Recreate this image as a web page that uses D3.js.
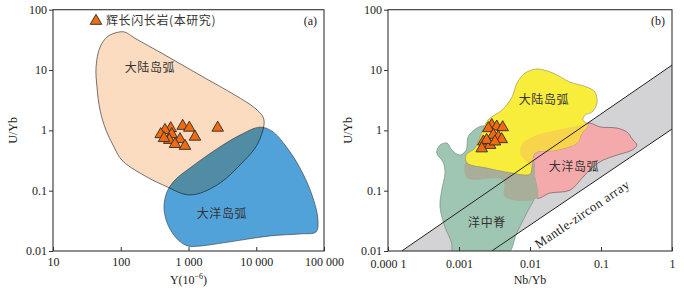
<!DOCTYPE html>
<html>
<head>
<meta charset="utf-8">
<script src="https://cdn.jsdelivr.net/npm/d3@7"></script>
<style>
body { margin: 0; background: #fff; }
.tick text { font-family: "Liberation Serif", serif; font-size: 12px; fill: #222; }
.tick line { stroke: #333; }
.cn { font-family: "Noto Sans CJK SC", sans-serif; font-size: 12px; fill: #333; letter-spacing: 0.6px; }
.en { font-family: "Liberation Serif", serif; font-size: 12px; fill: #222; }
</style>
</head>
<body>
<div id="chart"></div>
<script>
// tick values + labels
var uybTicks = [0.01, 0.1, 1, 10, 100];
var uybLabels = ["0.01", "0.1", "1", "10", "100"];
var yTicks = [10, 100, 1000, 10000, 100000];
var yLabels = ["10", "100", "1 000", "10 000", "100 000"];
var nbTicks = [0.0001, 0.001, 0.01, 0.1, 1];
var nbLabels = ["0.000 1", "0.001", "0.01", "0.1", "1"];

// samples (this study) - panel a: [Y ppm, U/Yb]
var samplesA = [[2698, 1.10], [821, 1.18], [1028, 1.10], [1247, 0.78], [546, 1.08], [450, 1.01], [389, 0.86],
    [565, 0.86], [521, 0.69], [750, 0.71], [632, 0.59], [888, 0.55], [435, 0.74]];
// panel b: [Nb/Yb, U/Yb]
var samplesB = [[0.00289, 1.22], [0.0034, 1.15], [0.00412, 1.12], [0.00259, 1.08], [0.00304, 0.84], [0.00358, 0.78],
    [0.00399, 0.71], [0.0022, 0.65], [0.00274, 0.57], [0.00245, 0.69], [0.00321, 0.65], [0.00209, 0.50]];

// fields panel a
var contArcA = [[97.5, 42.9], [64.9, 36.4], [49.4, 23.9], [43.2, 11.2], [44.6, 5.2], [49.4, 2.17], [60.5, 1.01],
    [76.9, 0.57], [104, 0.32], [192, 0.196], [450, 0.12], [1052, 0.085], [2637, 0.124], [6370, 0.30],
    [10260, 0.57], [13000, 1.22], [12600, 1.66], [9560, 2.34], [4850, 3.84], [1480, 8.2], [450, 17.7],
    [162, 33.7], [116, 42.4]];
var oceanArcA = [[11350, 1.13], [17100, 0.97], [26600, 0.57], [44200, 0.238], [66500, 0.085], [81500, 0.0327],
    [76200, 0.0207], [44200, 0.0192], [16000, 0.0178], [4100, 0.0142], [1480, 0.0121], [985, 0.0121],
    [700, 0.0153], [498, 0.027], [435, 0.052], [481, 0.095], [631, 0.150], [1052, 0.238], [2460, 0.47],
    [5760, 0.835]];

// fields panel b
var contArcB = [[0.00168, 0.509], [0.00198, 0.774], [0.00256, 1.48], [0.00404, 2.17], [0.00557, 3.56],
    [0.00656, 6.08], [0.00851, 8.91], [0.01256, 10.4], [0.0211, 8.91], [0.0366, 6.32], [0.0635, 5.22],
    [0.0822, 4.32], [0.0879, 2.84], [0.0746, 2.01], [0.0596, 1.79], [0.0557, 1.48], [0.0656, 1.22],
    [0.0540, 0.90], [0.0459, 0.615], [0.0240, 0.471], [0.01175, 0.421], [0.01067, 0.266], [0.0100, 0.188],
    [0.00474, 0.203], [0.00248, 0.237], [0.0013, 0.287], [0.001256, 0.389]];
var oceanArcB = [[0.00796, 0.615], [0.01256, 0.836], [0.0240, 1.01], [0.0506, 1.22], [0.070, 1.32], [0.0968, 1.14],
    [0.168, 1.09], [0.232, 0.937], [0.282, 0.69], [0.321, 0.570], [0.274, 0.471], [0.168, 0.389],
    [0.107, 0.321], [0.0771, 0.247], [0.0557, 0.168], [0.0366, 0.102], [0.0191, 0.0912], [0.01256, 0.0754],
    [0.01175, 0.150], [0.0110, 0.220], [0.00851, 0.321], [0.00723, 0.421]];
var morB = [[0.00211, 1.18], [0.00163, 1.01], [0.00134, 0.774], [0.00126, 0.471], [0.00103, 0.389],
    [0.000796, 0.471], [0.000678, 0.615], [0.00054, 0.570], [0.000485, 0.421], [0.000596, 0.298],
    [0.000635, 0.196], [0.00057, 0.102], [0.00054, 0.0535], [0.000635, 0.0249], [0.000788, 0.0135],
    [0.000832, 0.00855], [0.0047, 0.00855], [0.0065, 0.0198], [0.009, 0.0426], [0.01175, 0.0783],
    [0.01256, 0.124], [0.01175, 0.1815], [0.00851, 0.266], [0.00445, 0.471], [0.00274, 1.09]];
var overlapB = [[0.0013, 0.321], [0.0013, 0.162], [0.00417, 0.150], [0.00445, 0.0785], [0.01256, 0.0754],
    [0.01175, 0.1815], [0.0110, 0.321]];
// mantle-zircon array: upper and lower bounding lines
var arrayUpper = [[0.000156, 0.01], [1, 12.05]];
var arrayLower = [[0.00289, 0.01], [1, 1.05]];

var svg = d3.select("#chart").append("svg")
    .attr("width", 684)
    .attr("height", 290);

var top_y = 9.7, bottom_y = 251;

function makePanel(id, x0, x1, xDomain, xTicks, xLabels, xPad) {
    var xScale = d3.scaleLog().domain(xDomain).range([x0, x1]);
    var yScale = d3.scaleLog().domain([0.01, 100]).range([bottom_y, top_y]);

    svg.append("clipPath").attr("id", id)
        .append("rect")
        .attr("x", x0).attr("y", top_y)
        .attr("width", x1 - x0).attr("height", bottom_y - top_y);

    var g = svg.append("g");
    var plot = g.append("g").attr("clip-path", `url(#${id})`);

    var xAxis = g.append("g")
        .attr("transform", `translate(0, ${bottom_y})`)
        .call(d3.axisBottom(xScale).tickValues(xTicks).tickSize(-4).tickPadding(xPad)
            .tickFormat((d, i) => xLabels[i]));
    xAxis.select(".domain").remove();

    var yAxis = g.append("g")
        .attr("transform", `translate(${x0}, 0)`)
        .call(d3.axisLeft(yScale).tickValues(uybTicks).tickSize(4).tickPadding(2)
            .tickFormat((d, i) => uybLabels[i]));
    yAxis.select(".domain").remove();
    yAxis.selectAll(".tick text").attr("dy", "0.28em");

    g.append("text")
        .attr("class", "en")
        .attr("transform", `translate(${x0 - 36}, ${(top_y + bottom_y) / 2}) rotate(-90)`)
        .attr("text-anchor", "middle")
        .text("U/Yb");

    return { x: xScale, y: yScale, g: g, plot: plot, x0: x0, x1: x1 };
}

function field(x, y) {
    return d3.line()
        .x(d => x(d[0]))
        .y(d => y(d[1]))
        .curve(d3.curveCatmullRomClosed.alpha(0.5));
}

function frame(p) {
    p.g.append("rect")
        .attr("x", p.x0).attr("y", top_y)
        .attr("width", p.x1 - p.x0).attr("height", bottom_y - top_y)
        .attr("fill", "none")
        .attr("stroke", "#333")
        .attr("stroke-width", 1.1);
}

function triangles(p, data) {
    p.g.append("g")
        .selectAll("path")
        .data(data)
        .enter()
        .append("path")
        .attr("transform", d => `translate(${p.x(d[0])}, ${p.y(d[1])})`)
        .attr("d", d3.symbol(d3.symbolTriangle, 58))
        .attr("fill", "#f36a0e")
        .attr("stroke", "#2a2a2a")
        .attr("stroke-width", 0.9);
}

function cnLabel(p, pos, txt) {
    p.g.append("text")
        .attr("class", "cn")
        .attr("x", p.x(pos[0]))
        .attr("y", p.y(pos[1]))
        .attr("dy", "0.35em")
        .attr("text-anchor", "middle")
        .text(txt);
}

// ---------- panel (a) ----------
var pa = makePanel("clipA", 53, 324, [10, 100000], yTicks, yLabels, 6);
var lineA = field(pa.x, pa.y);

pa.plot.append("path")
    .attr("d", lineA(contArcA))
    .attr("fill", "#fcdcc1")
    .attr("stroke", "#3a3a3a")
    .attr("stroke-width", 0.7);

pa.plot.append("path")
    .attr("d", lineA(oceanArcA))
    .attr("fill", "#52a2da")
    .attr("stroke", "#333")
    .attr("stroke-width", 0.6)
    .style("mix-blend-mode", "multiply");

cnLabel(pa, [270, 10.8], "大陆岛弧");
cnLabel(pa, [3120, 0.041], "大洋岛弧");
frame(pa);
triangles(pa, samplesA);

// legend
pa.g.append("path")
    .attr("transform", "translate(96, 21)")
    .attr("d", d3.symbol(d3.symbolTriangle, 58))
    .attr("fill", "#f36a0e")
    .attr("stroke", "#2a2a2a")
    .attr("stroke-width", 0.9);
pa.g.append("text").attr("class", "cn")
    .attr("x", 106).attr("y", 21).attr("dy", "0.35em")
    .text("辉长闪长岩(本研究)");
pa.g.append("text").attr("class", "en")
    .attr("x", 317).attr("y", 21).attr("dy", "0.35em")
    .attr("text-anchor", "end")
    .text("(a)");

var xt = pa.g.append("text").attr("class", "en")
    .attr("x", (53 + 324) / 2).attr("y", 284)
    .attr("text-anchor", "middle");
xt.append("tspan").text("Y(10");
xt.append("tspan").attr("dy", -5).style("font-size", "8px").text("−6");
xt.append("tspan").attr("dy", 5).text(")");

// ---------- panel (b) ----------
var pb = makePanel("clipB", 388, 672, [0.0001, 1], nbTicks, nbLabels, 8.5);
var lineB = field(pb.x, pb.y);

// grey band between the two array lines
var band = [arrayUpper[0], arrayUpper[1], arrayLower[1], arrayLower[0]];
pb.plot.append("path")
    .attr("d", d3.line().x(d => pb.x(d[0])).y(d => pb.y(d[1]))(band) + "Z")
    .attr("fill", "#d3d3d5");

pb.plot.append("path")
    .attr("d", lineB(morB))
    .attr("fill", "#9fc6b2")
    .attr("stroke", "#6f7f76")
    .attr("stroke-width", 0.6);

pb.plot.append("path")
    .attr("d", lineB(oceanArcB))
    .attr("fill", "#f4aaab")
    .attr("stroke", "#5a4a4a")
    .attr("stroke-width", 0.6);

pb.plot.append("path")
    .attr("d", lineB(overlapB))
    .attr("fill", "#a8ae99");

pb.plot.append("path")
    .attr("d", lineB(contArcB))
    .attr("fill", "#f9ed3c")
    .attr("stroke", "#8a8a70")
    .attr("stroke-width", 0.6);

// yellow over pink
svg.append("clipPath").attr("id", "clipYellow")
    .append("path").attr("d", lineB(contArcB));
pb.plot.append("path")
    .attr("d", lineB(oceanArcB))
    .attr("clip-path", "url(#clipYellow)")
    .attr("fill", "#f7d44b");

[arrayUpper, arrayLower].forEach(function(l) {
    pb.plot.append("line")
        .attr("x1", pb.x(l[0][0])).attr("y1", pb.y(l[0][1]))
        .attr("x2", pb.x(l[1][0])).attr("y2", pb.y(l[1][1]))
        .attr("stroke", "#222")
        .attr("stroke-width", 1);
});

var ang = Math.atan2(pb.y(arrayLower[1][1]) - pb.y(arrayLower[0][1]),
    pb.x(arrayLower[1][0]) - pb.x(arrayLower[0][0])) * 180 / Math.PI;
pb.g.append("text").attr("class", "en")
    .attr("transform", `translate(${pb.x(0.054)}, ${pb.y(0.041)}) rotate(${ang})`)
    .attr("text-anchor", "middle")
    .attr("dy", "0.35em")
    .style("font-size", "13px")
    .style("letter-spacing", "0.4px")
    .text("Mantle-zircon array");

cnLabel(pb, [0.0157, 3.18], "大陆岛弧");
cnLabel(pb, [0.0417, 0.247], "大洋岛弧");
cnLabel(pb, [0.00248, 0.029], "洋中脊");
frame(pb);
triangles(pb, samplesB);

pb.g.append("text").attr("class", "en")
    .attr("x", 665).attr("y", 21).attr("dy", "0.35em")
    .attr("text-anchor", "end")
    .text("(b)");
pb.g.append("text").attr("class", "en")
    .attr("x", (388 + 672) / 2).attr("y", 284)
    .attr("text-anchor", "middle")
    .text("Nb/Yb");
</script>
</body>
</html>
